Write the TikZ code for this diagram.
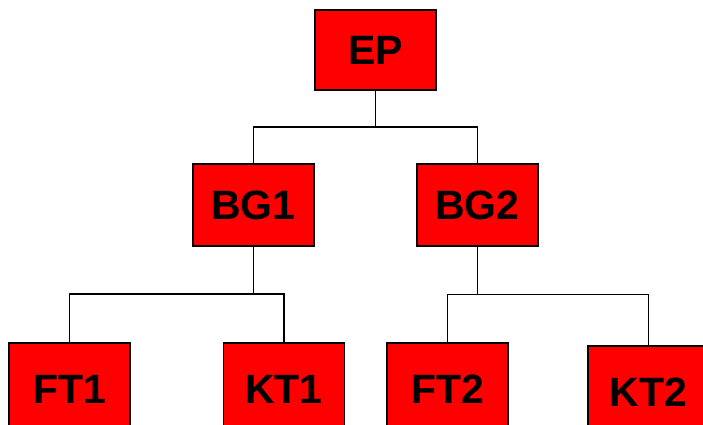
\documentclass[tikz,border=0pt]{standalone}
\usepackage{fontspec}
\setmainfont{Liberation Sans}
\begin{document}
\begin{tikzpicture}[x=1pt,y=-1pt,
  box/.style={draw=black,fill=red,line width=1.6pt,minimum width=121pt,minimum height=80pt,inner sep=0pt,
    font=\fontsize{41}{41}\selectfont\bfseries},
  leaf/.style={box,minimum height=100pt},
  conn/.style={draw=black,line width=1.5pt}]
\useasboundingbox (0,0) rectangle (703,424);
\clip (0,0) rectangle (703,424);
\node[box] (EP) at (375.5,50) {EP};
\node[box,minimum height=82pt] (BG1) at (253.5,205) {BG1};
\node[box,minimum height=82pt] (BG2) at (477.5,205) {BG2};
\node[leaf] (FT1) at (69.5,393) {\raisebox{8pt}{FT1}};
\node[leaf] (KT1) at (284,393) {\raisebox{8pt}{KT1}};
\node[leaf] (FT2) at (447.5,393) {\raisebox{8pt}{FT2}};
\node[leaf,minimum width=141pt] (KT2) at (658.5,396) {\kern-20pt\raisebox{8pt}{KT2}};
\coordinate (j0) at (375.5,127);
\coordinate (j1) at (253.5,294);
\coordinate (j2) at (477.5,294.5);
\draw[conn] (EP.south) -- (j0);
\draw[conn] (BG1.north) |- (j0) -| (BG2.north);
\draw[conn] (BG1.south) -- (j1);
\draw[conn] (FT1.north) |- (j1) -| (KT1.north);
\draw[conn] (BG2.south) -- (j2);
\draw[conn] (FT2.north) |- (j2) -| ([xshift=-10pt]KT2.north);
\end{tikzpicture}
\end{document}
